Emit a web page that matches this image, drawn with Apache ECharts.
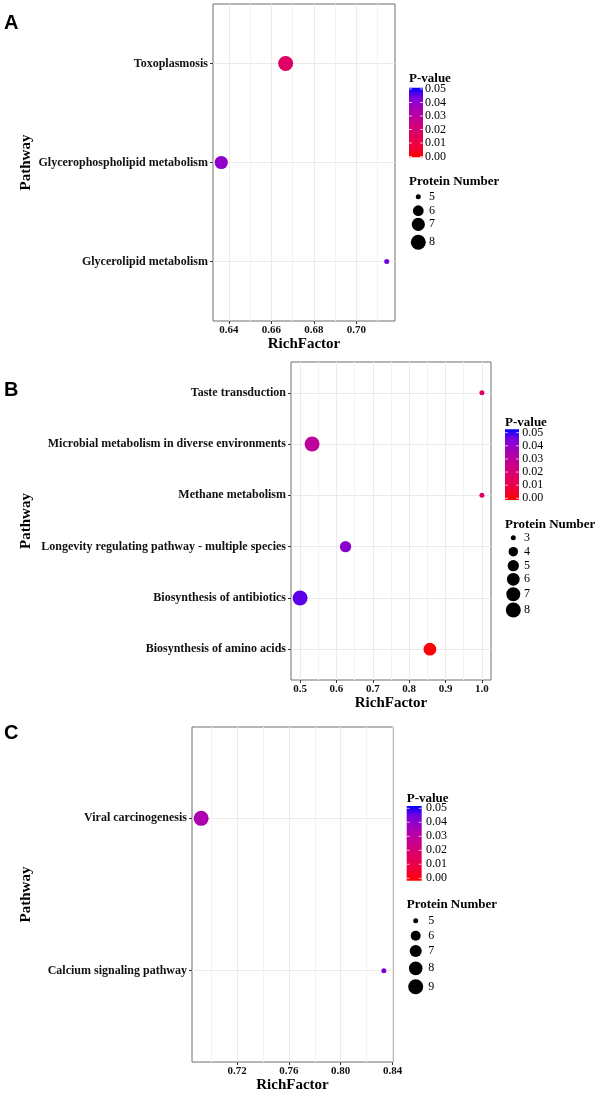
<!DOCTYPE html>
<html><head><meta charset="utf-8">
<script src="https://cdn.jsdelivr.net/npm/echarts@6/dist/echarts.min.js"></script>
<style>html,body{margin:0;padding:0;background:#fff}#c{width:601px;height:1095px}</style>
</head><body><div id="c"></div>
<script>
// ---------- Panel A ----------
const pathwaysA = ['Glycerolipid metabolism', 'Glycerophospholipid metabolism', 'Toxoplasmosis'];
const richA = [0.7143, 0.6364, 0.6667];
const pvalA = [0.044, 0.039, 0.017];
const countA = [5, 7, 8];
const xTickLabelsA = ['0.64', '0.66', '0.68', '0.70'];
const xMinorA = [0.65, 0.67, 0.69, 0.71];
const sizeLegendA = [5, 6, 7, 8];

// ---------- Panel B ----------
const pathwaysB = ['Biosynthesis of amino acids', 'Biosynthesis of antibiotics',
  'Longevity regulating pathway - multiple species', 'Methane metabolism',
  'Microbial metabolism in diverse environments', 'Taste transduction'];
const richB = [0.857, 0.5, 0.625, 1.0, 0.533, 1.0];
const pvalB = [0.001, 0.045, 0.040, 0.018, 0.029, 0.018];
const countB = [6, 8, 5, 3, 8, 3];
const xTickLabelsB = ['0.5', '0.6', '0.7', '0.8', '0.9', '1.0'];
const xMinorB = [0.55, 0.65, 0.75, 0.85, 0.95];
const sizeLegendB = [3, 4, 5, 6, 7, 8];

// ---------- Panel C ----------
const pathwaysC = ['Calcium signaling pathway', 'Viral carcinogenesis'];
const richC = [0.8333, 0.6923];
const pvalC = [0.043, 0.033];
const countC = [5, 9];
const xTickLabelsC = ['0.72', '0.76', '0.80', '0.84'];
const xMinorC = [0.70, 0.74, 0.78, 0.82];
const sizeLegendC = [5, 6, 7, 8, 9];

// ---------- Colour scale (P-value) ----------
const pTickLabels = ['0.05', '0.04', '0.03', '0.02', '0.01', '0.00'];
const pMax = 0.05;
const pColors = ['#FF0000', '#F40031', '#E80050', '#DA006C', '#C80088', '#B500A6', '#9A00C3', '#7200E1', '#0000FF'];

// ---------- layout ----------
const SERIF = '"Liberation Serif", "Times New Roman", serif';
const SANS = '"Liberation Sans", Arial, sans-serif';
const D_MIN = 5, D_MAX = 15;
function sizeFor(v, lo, hi) { return D_MIN + (D_MAX - D_MIN) * Math.sqrt((v - lo) / (hi - lo)); }

const panels = [
  { cats: pathwaysA, rich: richA, p: pvalA, n: countA, ticks: xTickLabelsA, minor: xMinorA, sizes: sizeLegendA,
    grid: { left: 213, top: 4, width: 182, height: 317 }, xGap: 15, yGap: 179,
    letter: { t: 'A', x: 4, y: 23 },
    leg: { x: 409, titleY: 79, barY: 87.7, barW: 14, barH: 69.6, lblX: 425, lblTop: 89, lblBot: 156.5,
           pnY: 181.7, cx: 418.3, ys: [196.7, 210.7, 224.3, 242.3], sLblX: 429 } },
  { cats: pathwaysB, rich: richB, p: pvalB, n: countB, ticks: xTickLabelsB, minor: xMinorB, sizes: sizeLegendB,
    grid: { left: 291, top: 362, width: 200, height: 318 }, xGap: 16, yGap: 257,
    letter: { t: 'B', x: 4, y: 390 },
    leg: { x: 505, titleY: 422.7, barY: 429.3, barW: 14, barH: 70.7, lblX: 522.3, lblTop: 432.7, lblBot: 498.3,
           pnY: 524.3, cx: 513.3, ys: [537.7, 551.7, 565.7, 579.3, 594.3, 610], sLblX: 524 } },
  { cats: pathwaysC, rich: richC, p: pvalC, n: countC, ticks: xTickLabelsC, minor: xMinorC, sizes: sizeLegendC,
    grid: { left: 192, top: 727, width: 201, height: 335 }, xGap: 16, yGap: 158,
    letter: { t: 'C', x: 4, y: 733.5 },
    leg: { x: 406.7, titleY: 798.3, barY: 806, barW: 15, barH: 74.7, lblX: 426, lblTop: 808.3, lblBot: 878.3,
           pnY: 905, cx: 415.7, ys: [920.7, 935.7, 951, 968.3, 986.7], sLblX: 428.3 } }
];

const grids = [], xAxes = [], yAxes = [], series = [], graphics = [];
const gridLineColor = '#EBEBEB';

panels.forEach((P, i) => {
  grids.push(Object.assign({ show: true, borderColor: '#6f6f6f', borderWidth: 1, backgroundColor: '#fff', outerBoundsMode: 'none' }, P.grid));
  const lo = Math.min(...P.rich), hi = Math.max(...P.rich), r = hi - lo;
  const xmin = lo - 0.05 * r, xmax = hi + 0.05 * r;
  const tickVals = P.ticks.map(Number);
  // major axis
  xAxes.push({
    gridIndex: i, type: 'value', min: xmin, max: xmax, position: 'bottom',
    axisLine: { show: false },
    axisTick: { show: true, customValues: tickVals, length: 3, lineStyle: { color: '#333', width: 1 } },
    axisLabel: { customValues: tickVals, margin: 4, fontFamily: SERIF, fontWeight: 'bold', fontSize: 11, color: '#111',
      formatter: v => { const k = tickVals.findIndex(t => Math.abs(t - v) < 1e-9); return k >= 0 ? P.ticks[k] : ''; } },
    splitLine: { show: true, lineStyle: { color: gridLineColor, width: 1 } },
    name: 'RichFactor', nameLocation: 'middle', nameGap: P.xGap,
    nameTextStyle: { fontFamily: SERIF, fontWeight: 'bold', fontSize: 15, color: '#000' }
  });
  // minor gridline axis
  xAxes.push({
    gridIndex: i, type: 'value', min: xmin, max: xmax, position: 'bottom',
    axisLine: { show: false },
    axisTick: { show: false, customValues: P.minor },
    axisLabel: { show: false, customValues: P.minor },
    splitLine: { show: true, lineStyle: { color: '#F2F2F2', width: 1 } }
  });
  const yVals = P.cats.map((c, k) => k + 1);
  yAxes.push({
    gridIndex: i, type: 'value', min: 0.4, max: P.cats.length + 0.6,
    axisLine: { show: false },
    axisTick: { show: true, customValues: yVals, length: 3, lineStyle: { color: '#333', width: 1 } },
    axisLabel: { customValues: yVals, margin: 5, fontFamily: SERIF, fontWeight: 'bold', fontSize: 12, color: '#111',
      formatter: v => P.cats[Math.round(v) - 1] || '' },
    splitLine: { show: true, lineStyle: { color: gridLineColor, width: 1 } },
    name: 'Pathway', nameLocation: 'middle', nameGap: P.yGap,
    nameTextStyle: { fontFamily: SERIF, fontWeight: 'bold', fontSize: 15, color: '#000' }
  });
  const sLo = Math.min(...P.sizes), sHi = Math.max(...P.sizes);
  series.push({
    type: 'scatter', xAxisIndex: 2 * i, yAxisIndex: i, symbol: 'circle',
    data: P.cats.map((c, k) => [P.rich[k], k + 1, P.p[k], P.n[k], c]),
    symbolSize: v => sizeFor(v[3], sLo, sHi),
    itemStyle: { opacity: 1 }, emphasis: { disabled: true }, z: 3
  });

  // panel letter
  graphics.push({ type: 'text', x: P.letter.x, y: P.letter.y,
    style: { text: P.letter.t, font: 'bold 20px ' + SANS, fill: '#000', verticalAlign: 'middle' } });
  // colour bar legend
  const L = P.leg;
  graphics.push({ type: 'text', x: L.x, y: L.titleY,
    style: { text: 'P-value', font: 'bold 13px ' + SERIF, fill: '#000', verticalAlign: 'middle' } });
  graphics.push({ type: 'rect', shape: { x: L.x, y: L.barY, width: L.barW, height: L.barH },
    style: { fill: new echarts.graphic.LinearGradient(0, 1, 0, 0, pColors.map((c, k) => ({ offset: k / (pColors.length - 1), color: c }))) } });
  pTickLabels.forEach(lbl => {
    const v = Number(lbl);
    const y = L.lblBot - (v / pMax) * (L.lblBot - L.lblTop);
    graphics.push({ type: 'line', shape: { x1: L.x, y1: y, x2: L.x + 3, y2: y }, style: { stroke: '#fff', lineWidth: 1, opacity: 0.7 } });
    graphics.push({ type: 'line', shape: { x1: L.x + L.barW - 3, y1: y, x2: L.x + L.barW, y2: y }, style: { stroke: '#fff', lineWidth: 1, opacity: 0.7 } });
    graphics.push({ type: 'text', x: L.lblX, y: y,
      style: { text: lbl, font: '12px ' + SERIF, fill: '#000', verticalAlign: 'middle' } });
  });
  // size legend
  graphics.push({ type: 'text', x: L.x, y: L.pnY,
    style: { text: 'Protein Number', font: 'bold 13px ' + SERIF, fill: '#000', verticalAlign: 'middle' } });
  P.sizes.forEach((s, k) => {
    graphics.push({ type: 'circle', shape: { cx: L.cx, cy: L.ys[k], r: sizeFor(s, sLo, sHi) / 2 }, style: { fill: '#000' } });
    graphics.push({ type: 'text', x: L.sLblX, y: L.ys[k],
      style: { text: String(s), font: '12px ' + SERIF, fill: '#000', verticalAlign: 'middle' } });
  });
});

const chart = echarts.init(document.getElementById('c'), null, { renderer: 'canvas' });
chart.setOption({
  animation: false,
  backgroundColor: '#fff',
  grid: grids,
  xAxis: xAxes,
  yAxis: yAxes,
  visualMap: [{ type: 'continuous', show: false, min: 0, max: pMax, dimension: 2, seriesIndex: [0, 1, 2],
    inRange: { color: pColors } }],
  series: series,
  graphic: { elements: graphics }
});
</script>
</body></html>
